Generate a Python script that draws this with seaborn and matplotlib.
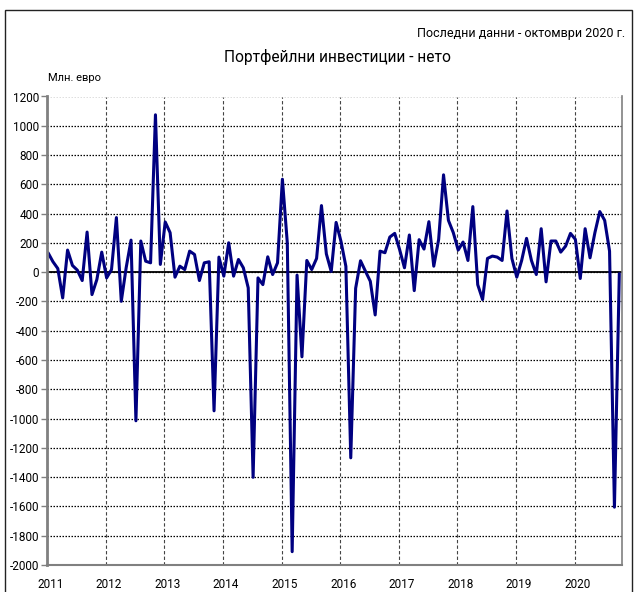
import numpy as np
import pandas as pd
import matplotlib
matplotlib.use("Agg")
import matplotlib.pyplot as plt
import seaborn as sns
from matplotlib.patches import Rectangle

# Monthly net portfolio investment, mln EUR, Jan 2011 - Oct 2020
values = [
    133, 72, 25, -176, 151, 46, 14, -57, 274, -153, -50, 137,          # 2011
    -39, 18, 373, -199, 30, 219, -1015, 213, 75, 64, 1075, 53,         # 2012
    343, 270, -34, 41, 18, 144, 121, -57, 64, 71, -947, 103,           # 2013
    -27, 201, -27, 87, 30, -107, -1401, -39, -85, 105, -16, 64,        # 2014
    635, 201, -1909, -20, -578, 80, 18, 94, 455, 125, 5, 340,          # 2015
    210, 40, -1268, -110, 78, 7, -62, -292, 144, 133, 240, 265,        # 2016
    155, 30, 254, -126, 222, 158, 345, 41, 224, 665, 354, 270,         # 2017
    151, 206, 80, 448, -85, -187, 94, 110, 103, 80, 418, 94,           # 2018
    -34, 80, 231, 80, -16, 297, -66, 213, 213, 137, 178, 265,          # 2019
    224, -43, 297, 98, 270, 414, 354, 144, -1605, -10,                 # 2020
]
year_labels = ["2011", "2012", "2013", "2014", "2015", "2016", "2017", "2018", "2019", "2020"]
y_ticks = list(range(-2000, 1201, 200))

title = "Портфейлни инвестиции - нето"
note = "Последни данни - октомври 2020 г."
unit = "Млн. евро"

df = pd.DataFrame({"month": np.arange(len(values)) + 0.15, "value": values})

sns.set_theme(style="white")
plt.rcParams["font.family"] = ["Roboto", "DejaVu Sans"]

fig = plt.figure(figsize=(6.37, 5.92), dpi=100)
ax = fig.add_axes([47.3 / 637, 1 - 565 / 592, (622 - 47.3) / 637, (565 - 96.5) / 592])

sns.lineplot(data=df, x="month", y="value", ax=ax, color="#000080", linewidth=2.2)

ax.set_xlim(0, 117.7)
ax.set_ylim(-2000, 1200)
ax.set_yticks(y_ticks)
ax.set_yticklabels([str(t) for t in y_ticks])
ax.set_xticks([12 * i + 0.6 for i in range(len(year_labels))])
ax.set_xticklabels(year_labels)
ax.set_xlabel("")
ax.set_ylabel("")

ax.yaxis.grid(True, linestyle=(0, (1.2, 1.2)), color="black", linewidth=0.9)
for i in range(len(year_labels)):
    ax.axvline(12 * i, color="#444444", linestyle=(0, (3, 2)), linewidth=0.8, zorder=0.5)
ax.xaxis.grid(False)
ax.axhline(0, color="black", linewidth=1.3, zorder=1.5)

for side in ["left", "bottom", "right"]:
    ax.spines[side].set_visible(True)
    ax.spines[side].set_color("#808080")
ax.spines["left"].set_linewidth(2.0)
ax.spines["bottom"].set_linewidth(1.5)
ax.spines["right"].set_linewidth(1.2)
ax.spines["top"].set_visible(False)

ax.tick_params(axis="y", which="major", left=True, length=4, width=1, color="#808080",
               pad=2, labelsize=8.5, labelcolor="black")
ax.tick_params(axis="x", which="major", bottom=False, length=0, pad=9,
               labelsize=8.5, labelcolor="black")

fig.text(338 / 637, 1 - 57 / 592, title, ha="center", va="center", fontsize=11.2, color="black")
fig.text(625 / 637, 1 - 33 / 592, note, ha="right", va="center", fontsize=9, color="black")
fig.text(48 / 637, 1 - 78 / 592, unit, ha="left", va="center", fontsize=8, color="black")

fig.patches.append(Rectangle((5 / 637, -0.02), (632 - 5) / 637, 0.02 + 1 - 10 / 592,
                             transform=fig.transFigure, fill=False,
                             edgecolor="#222222", linewidth=1.0))

fig.savefig("out.png", dpi=100)
